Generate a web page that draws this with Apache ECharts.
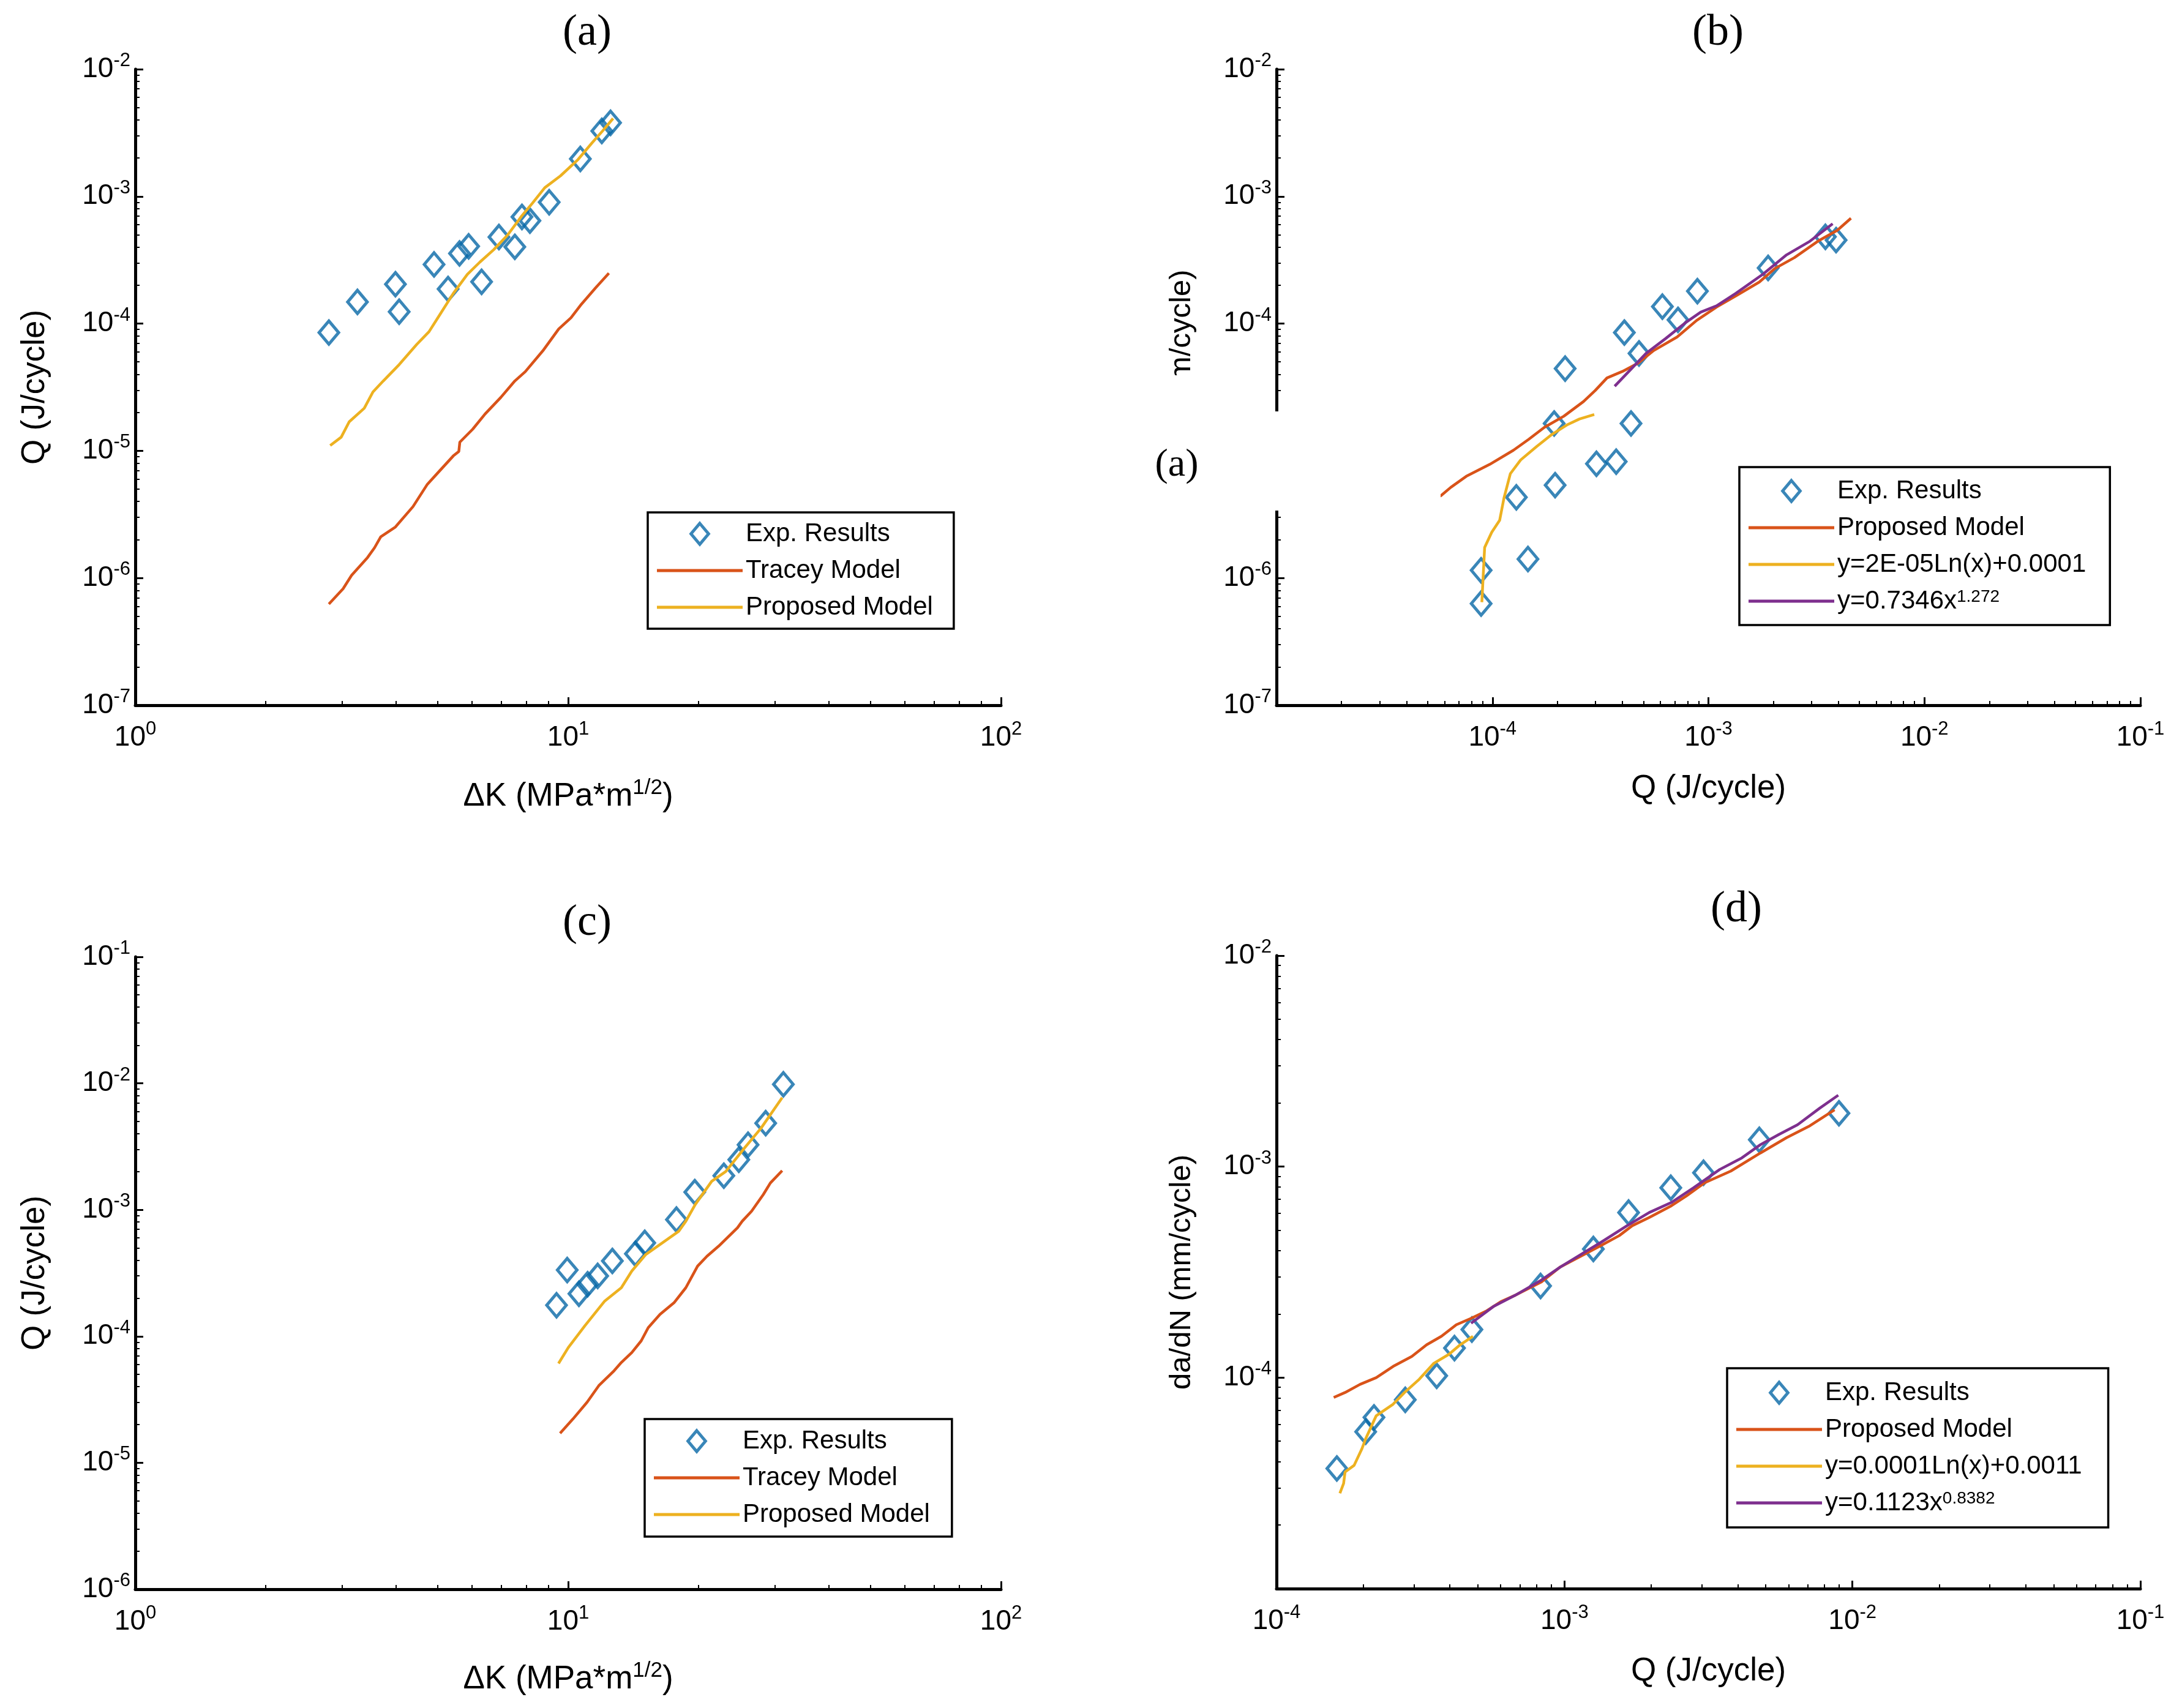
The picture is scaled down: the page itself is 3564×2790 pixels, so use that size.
<!DOCTYPE html>
<html>
<head>
<meta charset="utf-8" />
<title>Q and da/dN fits</title>
<style>
  html, body { margin: 0; padding: 0; background: #fff; }
  #main { width: 3564px; height: 2790px; }
</style>
</head>
<body>
<div id="main"></div>
<script src="https://cdn.jsdelivr.net/npm/echarts@6/dist/echarts.min.js"></script>
<script>
// ---- panel (a): Q vs dK
const aExpX = [2.80, 3.26, 3.99, 4.07, 4.90, 5.28, 5.61, 5.89, 6.31, 6.92, 7.53, 7.82, 8.16, 9.04, 10.67, 11.96, 12.53];
const aExpY = [8.5e-5, 1.48e-4, 2.04e-4, 1.24e-4, 2.92e-4, 1.87e-4, 3.56e-4, 4.05e-4, 2.13e-4, 4.79e-4, 4.01e-4, 6.9e-4, 6.44e-4, 9.0e-4, 1.97e-3, 3.27e-3, 3.79e-3];
const aTraceyX = [2.80, 3.02, 3.16, 3.44, 3.57, 3.69, 3.99, 4.38, 4.72, 5.04, 5.43, 5.59, 5.62, 6.02, 6.43, 6.99, 7.53, 7.96, 8.74, 9.51, 10.15, 10.73, 11.57, 12.42];
const aTraceyY = [6.24e-7, 8.24e-7, 1.05e-6, 1.45e-6, 1.73e-6, 2.11e-6, 2.52e-6, 3.64e-6, 5.41e-6, 6.92e-6, 9.13e-6, 9.89e-6, 1.17e-5, 1.48e-5, 1.95e-5, 2.63e-5, 3.54e-5, 4.19e-5, 6.11e-5, 9.08e-5, 1.11e-4, 1.42e-4, 1.91e-4, 2.49e-4];
const aPropX = [2.82, 2.99, 3.12, 3.38, 3.54, 3.74, 4.07, 4.47, 4.77, 5.04, 5.43, 5.85, 6.25, 6.73, 7.25, 7.82, 8.27, 8.83, 9.60, 10.54, 11.35, 12.01, 12.70];
const aPropY = [1.10e-5, 1.28e-5, 1.69e-5, 2.16e-5, 2.90e-5, 3.54e-5, 4.76e-5, 6.87e-5, 8.63e-5, 1.16e-4, 1.73e-4, 2.44e-4, 3.04e-4, 3.81e-4, 4.98e-4, 7.05e-4, 8.85e-4, 1.17e-3, 1.45e-3, 1.95e-3, 2.63e-3, 3.27e-3, 4.10e-3];

// ---- panel (b): da/dN vs Q
const bExpX = [8.86e-5, 8.86e-5, 1.46e-4, 1.29e-4, 1.95e-4, 1.93e-4, 2.17e-4, 3.03e-4, 3.74e-4, 4.38e-4, 4.08e-4, 4.77e-4, 6.12e-4, 7.23e-4, 8.89e-4, 1.89e-3, 3.48e-3, 3.90e-3];
const bExpY = [6.3e-7, 1.15e-6, 1.41e-6, 4.31e-6, 5.37e-6, 1.64e-5, 4.43e-5, 7.91e-6, 8.22e-6, 1.64e-5, 8.5e-5, 5.83e-5, 1.36e-4, 1.07e-4, 1.80e-4, 2.74e-4, 4.81e-4, 4.53e-4];
const bPropX = [4.99e-5, 5.77e-5, 6.41e-5, 7.56e-5, 9.71e-5, 1.25e-4, 1.47e-4, 1.74e-4, 2.14e-4, 2.64e-4, 2.99e-4, 3.39e-4, 4.00e-4, 4.72e-4, 5.58e-4, 7.16e-4, 8.82e-4, 1.09e-3, 1.34e-3, 1.72e-3, 2.03e-3, 2.50e-3, 3.21e-3, 3.95e-3, 4.57e-3];
const bPropY = [3.84e-6, 4.44e-6, 5.16e-6, 6.30e-6, 7.82e-6, 1.01e-5, 1.23e-5, 1.53e-5, 1.87e-5, 2.44e-5, 2.98e-5, 3.74e-5, 4.21e-5, 4.89e-5, 6.14e-5, 7.85e-5, 1.06e-4, 1.35e-4, 1.65e-4, 2.12e-4, 2.71e-4, 3.30e-4, 4.44e-4, 5.41e-4, 6.73e-4];
const bLnX = [8.93e-5, 9.05e-5, 9.20e-5, 9.92e-5, 1.08e-4, 1.13e-4, 1.21e-4, 1.35e-4, 1.60e-4, 1.89e-4, 2.23e-4, 2.53e-4, 2.96e-4];
const bLnY = [6.46e-7, 1.01e-6, 1.74e-6, 2.29e-6, 2.85e-6, 4.24e-6, 6.61e-6, 8.47e-6, 1.08e-5, 1.35e-5, 1.61e-5, 1.78e-5, 1.93e-5];
const bPowX = [3.68e-4, 4.35e-4, 5.14e-4, 6.33e-4, 7.79e-4, 9.21e-4, 1.09e-3, 1.34e-3, 1.79e-3, 2.30e-3, 2.95e-3, 3.76e-3];
const bPowY = [3.22e-5, 4.33e-5, 5.83e-5, 7.62e-5, 1.01e-4, 1.23e-4, 1.38e-4, 1.73e-4, 2.45e-4, 3.47e-4, 4.44e-4, 6.10e-4];

// ---- panel (c): Q vs dK
const cExpX = [9.40, 9.95, 10.59, 11.09, 11.70, 12.65, 14.30, 15.03, 17.79, 19.61, 22.89, 24.79, 26.04, 28.60, 31.42];
const cExpY = [1.76e-4, 3.34e-4, 2.17e-4, 2.58e-4, 3.00e-4, 3.94e-4, 4.49e-4, 5.48e-4, 8.37e-4, 1.38e-3, 1.86e-3, 2.49e-3, 3.27e-3, 4.84e-3, 9.83e-3];
const cTraceyX = [9.58, 10.26, 11.06, 11.77, 12.77, 13.27, 14.03, 14.75, 15.31, 16.30, 17.56, 18.70, 19.91, 20.93, 22.27, 24.61, 25.24, 26.53, 28.24, 29.32, 31.22];
const cTraceyY = [1.71e-5, 2.22e-5, 3.01e-5, 4.07e-5, 5.34e-5, 6.21e-5, 7.44e-5, 9.20e-5, 1.17e-4, 1.49e-4, 1.84e-4, 2.42e-4, 3.59e-4, 4.30e-4, 5.16e-4, 7.20e-4, 8.12e-4, 9.75e-4, 1.32e-3, 1.63e-3, 2.04e-3];
const cPropX = [9.50, 10.01, 10.93, 12.15, 13.27, 14.03, 15.12, 16.51, 18.02, 18.70, 19.66, 21.46, 23.13, 25.55, 27.90, 31.22];
const cPropY = [6.09e-5, 8.15e-5, 1.21e-4, 1.90e-4, 2.42e-4, 3.28e-4, 4.44e-4, 5.48e-4, 6.78e-4, 8.12e-4, 1.10e-3, 1.68e-3, 2.01e-3, 3.08e-3, 4.42e-3, 7.71e-3];

// ---- panel (d): da/dN vs Q
const dExpX = [1.62e-4, 2.04e-4, 2.18e-4, 2.80e-4, 3.60e-4, 4.15e-4, 4.77e-4, 8.26e-4, 1.26e-3, 1.67e-3, 2.34e-3, 3.04e-3, 4.75e-3, 8.98e-3];
const dExpY = [3.71e-5, 5.54e-5, 6.48e-5, 7.85e-5, 1.02e-4, 1.38e-4, 1.69e-4, 2.72e-4, 4.07e-4, 6.06e-4, 7.94e-4, 9.35e-4, 1.34e-3, 1.79e-3];
const dPropX = [1.58e-4, 1.73e-4, 1.95e-4, 2.22e-4, 2.54e-4, 2.95e-4, 3.32e-4, 3.74e-4, 4.21e-4, 4.74e-4, 5.33e-4, 6.01e-4, 6.76e-4, 8.32e-4, 9.66e-4, 1.15e-3, 1.34e-3, 1.55e-3, 1.72e-3, 1.97e-3, 2.35e-3, 2.65e-3, 3.07e-3, 3.78e-3, 4.79e-3, 5.90e-3, 7.05e-3, 8.67e-3];
const dPropY = [8.05e-5, 8.50e-5, 9.29e-5, 1.00e-4, 1.13e-4, 1.26e-4, 1.43e-4, 1.57e-4, 1.78e-4, 1.91e-4, 2.06e-4, 2.29e-4, 2.46e-4, 2.84e-4, 3.34e-4, 3.79e-4, 4.23e-4, 4.71e-4, 5.25e-4, 5.74e-4, 6.52e-4, 7.26e-4, 8.39e-4, 9.52e-4, 1.16e-3, 1.37e-3, 1.55e-3, 1.86e-3];
const dLnX = [1.66e-4, 1.71e-4, 1.73e-4, 1.86e-4, 1.98e-4, 2.04e-4, 2.22e-4, 2.54e-4, 2.78e-4, 3.13e-4, 3.52e-4, 3.97e-4, 4.34e-4, 4.81e-4];
const dLnY = [2.83e-5, 3.15e-5, 3.57e-5, 3.84e-5, 4.60e-5, 5.13e-5, 6.60e-5, 7.48e-5, 8.49e-5, 9.82e-5, 1.17e-4, 1.29e-4, 1.43e-4, 1.57e-4];
const dPowX = [4.74e-4, 5.66e-4, 6.76e-4, 8.32e-4, 9.66e-4, 1.15e-3, 1.34e-3, 1.65e-3, 1.97e-3, 2.35e-3, 2.81e-3, 3.46e-3, 4.13e-3, 4.79e-3, 5.55e-3, 6.45e-3, 7.69e-3, 8.93e-3];
const dPowY = [1.81e-4, 2.17e-4, 2.46e-4, 2.90e-4, 3.34e-4, 3.86e-4, 4.38e-4, 5.25e-4, 6.06e-4, 6.76e-4, 7.94e-4, 9.69e-4, 1.10e-3, 1.27e-3, 1.42e-3, 1.58e-3, 1.89e-3, 2.18e-3];

const panelTitles = ['(a)', '(b)', '(c)', '(d)'];
const legendText = {
  exp: 'Exp. Results',
  tracey: 'Tracey Model',
  prop: 'Proposed Model',
  bLn: 'y=2E-05Ln(x)+0.0001',
  bPow: 'y=0.7346x{s|1.272}',
  dLn: 'y=0.0001Ln(x)+0.0011',
  dPow: 'y=0.1123x{s|0.8382}'
};

const BLUE = '#0868a6', RED = '#D95319', YELLOW = '#EDB120', PURPLE = '#7E2F8E';
const SANS = 'Liberation Sans';
const SERIF = 'Liberation Serif';
const DIAMOND_ICON = 'path://M16,0L32,19L16,38L0,19Z';
const LINE_ICON = 'path://M0,0L140,0L140,5L0,5Z';

const zip = (xs, ys) => xs.map((x, i) => [x, ys[i]]);

function powLabels(hidden) {
  return function (v) {
    const e = Math.round(Math.log10(v));
    if (hidden.indexOf(e) >= 0) return '';
    return '{b|10}{s|' + e + '}';
  };
}

const labelRich = {
  b: { fontFamily: SANS, fontSize: 46, lineHeight: 58, color: '#000' },
  s: { fontFamily: SANS, fontSize: 31, lineHeight: 31, verticalAlign: 'top', color: '#000' }
};
const nameRich = {
  n: { fontFamily: SANS, fontSize: 53, lineHeight: 62, color: '#000' },
  m: { fontFamily: SANS, fontSize: 49, lineHeight: 60, color: '#000' },
  s: { fontFamily: SANS, fontSize: 35, lineHeight: 35, verticalAlign: 'top', color: '#000' }
};

function logAxis(gridIndex, min, max, name, nameGap, labelMargin, hidden) {
  return {
    type: 'log', logBase: 10, gridIndex: gridIndex, min: min, max: max,
    name: name, nameLocation: 'middle', nameGap: nameGap,
    nameTextStyle: { rich: nameRich },
    axisLine: { show: true, onZero: false, lineStyle: { color: '#000', width: 5 } },
    axisTick: { show: true, inside: true, length: 13, lineStyle: { color: '#000', width: 3 } },
    minorTick: { show: true, splitNumber: 9, length: 7, lineStyle: { color: '#000', width: 2 } },
    axisLabel: { formatter: powLabels(hidden), margin: labelMargin, rich: labelRich },
    splitLine: { show: false },
    minorSplitLine: { show: false }
  };
}

function expSeries(name, gi, xs, ys) {
  return {
    name: name, type: 'scatter', xAxisIndex: gi, yAxisIndex: gi, z: 2,
    symbol: 'diamond', symbolSize: [32, 38],
    itemStyle: { color: 'rgba(255,255,255,0)', borderColor: BLUE, borderWidth: 5 },
    data: zip(xs, ys)
  };
}

function lineSeries(name, gi, xs, ys, color) {
  return {
    name: name, type: 'line', xAxisIndex: gi, yAxisIndex: gi, z: 3,
    symbol: 'none', smooth: false,
    lineStyle: { color: color, width: 4.5 },
    itemStyle: { color: color },
    data: zip(xs, ys)
  };
}

// legend entries: [seriesName, colour or null for the diamond]
function boxLegend(left, top, padding, entries) {
  return {
    orient: 'vertical', left: left, top: top, padding: padding,
    itemGap: 18, itemWidth: 140, itemHeight: 34,
    borderColor: '#000', borderWidth: 3.5, backgroundColor: '#fff',
    selectedMode: false,
    data: entries.map(e => e[1]
      ? { name: e[0], icon: LINE_ICON, itemStyle: { color: e[1], borderWidth: 0 } }
      : { name: e[0], icon: DIAMOND_ICON, itemStyle: { color: 'rgba(255,255,255,0)', borderColor: BLUE, borderWidth: 5 } }),
    formatter: n => legendText[n.split('#')[0]],
    textStyle: {
      fontFamily: SANS, fontSize: 42, lineHeight: 42, color: '#000',
      rich: { s: { fontFamily: SANS, fontSize: 28, lineHeight: 28, verticalAlign: 'top', color: '#000' } }
    }
  };
}

const titleStyle = { fontFamily: SERIF, fontSize: 72, fontWeight: 'normal', color: '#000' };

const option = {
  backgroundColor: '#fff',
  animation: false,
  title: [
    { text: panelTitles[0], left: 959, top: 18, textAlign: 'center', padding: 0, textStyle: titleStyle },
    { text: panelTitles[1], left: 2806, top: 18, textAlign: 'center', padding: 0, textStyle: titleStyle },
    { text: panelTitles[2], left: 959, top: 1472, textAlign: 'center', padding: 0, textStyle: titleStyle },
    { text: panelTitles[3], left: 2836, top: 1450, textAlign: 'center', padding: 0, textStyle: titleStyle }
  ],
  grid: [
    { left: 221, top: 113, width: 1414, height: 1039 },
    { left: 2085, top: 113, width: 1411, height: 1039 },
    { left: 221, top: 1563, width: 1414, height: 1033 },
    { left: 2085, top: 1561, width: 1411, height: 1034 }
  ],
  xAxis: [
    logAxis(0, 1, 100, '{n|ΔK (MPa*m}{s|1/2}{n|)}', 118, 24, []),
    logAxis(1, 1e-5, 1e-1, '{n|Q (J/cycle)}', 105, 24, [-5]),
    logAxis(2, 1, 100, '{n|ΔK (MPa*m}{s|1/2}{n|)}', 116, 24, []),
    logAxis(3, 1e-4, 1e-1, '{n|Q (J/cycle)}', 104, 24, [])
  ],
  yAxis: [
    logAxis(0, 1e-7, 1e-2, '{n|Q (J/cycle)}', 133, 8, []),
    logAxis(1, 1e-7, 1e-2, '{m|da/dN (mm/cycle)}', 125, 8, []),
    logAxis(2, 1e-6, 1e-1, '{n|Q (J/cycle)}', 133, 8, []),
    logAxis(3, 1e-5, 1e-2, '{m|da/dN (mm/cycle)}', 125, 8, [-5])
  ],
  legend: [
    boxLegend(1058, 837, [14, 34, 14, 15], [['exp#a'], ['tracey#a', RED], ['prop#a', YELLOW]]),
    boxLegend(2841, 763, [18, 39, 18, 15], [['exp#b'], ['prop#b', RED], ['bLn#b', YELLOW], ['bPow#b', PURPLE]]),
    boxLegend(1053, 2318, [15, 36, 15, 15], [['exp#c'], ['tracey#c', RED], ['prop#c', YELLOW]]),
    boxLegend(2821, 2235, [19, 43, 19, 15], [['exp#d'], ['prop#d', RED], ['dLn#d', YELLOW], ['dPow#d', PURPLE]])
  ],
  series: [
    expSeries('exp#a', 0, aExpX, aExpY),
    lineSeries('tracey#a', 0, aTraceyX, aTraceyY, RED),
    lineSeries('prop#a', 0, aPropX, aPropY, YELLOW),

    expSeries('exp#b', 1, bExpX, bExpY),
    lineSeries('prop#b', 1, bPropX, bPropY, RED),
    lineSeries('bLn#b', 1, bLnX, bLnY, YELLOW),
    lineSeries('bPow#b', 1, bPowX, bPowY, PURPLE),

    expSeries('exp#c', 2, cExpX, cExpY),
    lineSeries('tracey#c', 2, cTraceyX, cTraceyY, RED),
    lineSeries('prop#c', 2, cPropX, cPropY, YELLOW),

    expSeries('exp#d', 3, dExpX, dExpY),
    lineSeries('prop#d', 3, dPropX, dPropY, RED),
    lineSeries('dLn#d', 3, dLnX, dLnY, YELLOW),
    lineSeries('dPow#d', 3, dPowX, dPowY, PURPLE)
  ],
  // pasted-over caption patch that sits across panel (b) in the source figure
  graphic: [
    { type: 'rect', z: 100, shape: { x: 1500, y: 672, width: 853, height: 162 }, style: { fill: '#fff' } },
    { type: 'rect', z: 100, shape: { x: 1880, y: 613, width: 92, height: 62 }, style: { fill: '#fff' } },
    { type: 'text', z: 101, x: 1922, y: 760,
      style: { text: '(a)', fontFamily: SERIF, fontSize: 64, fill: '#000', align: 'center', verticalAlign: 'middle' } }
  ]
};

const chart = echarts.init(document.getElementById('main'));
chart.setOption(option);
</script>
</body>
</html>
